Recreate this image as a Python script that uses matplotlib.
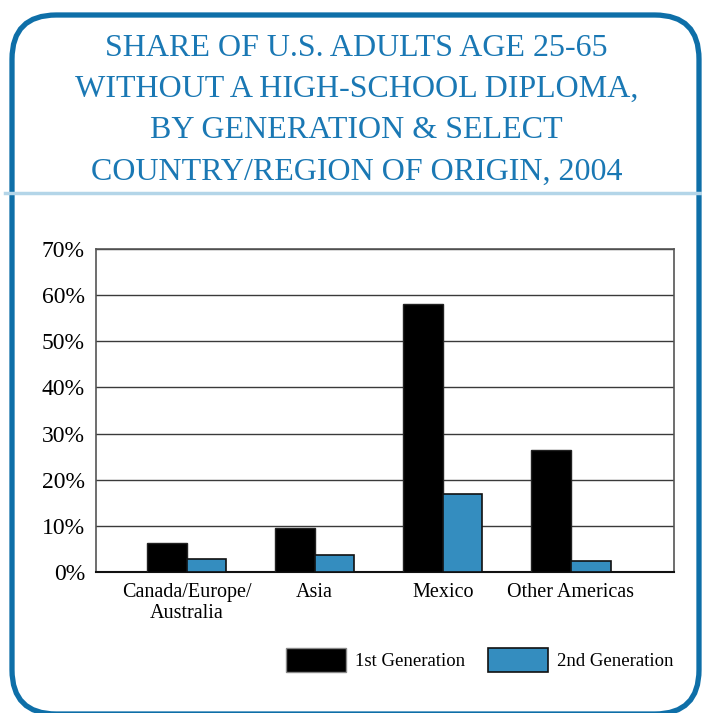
import matplotlib.pyplot as plt
import numpy as np
from matplotlib.patches import FancyBboxPatch, Patch
from matplotlib.lines import Line2D

regions = ['Canada/Europe/\nAustralia', 'Asia', 'Mexico', 'Other Americas']
gen1 = [6.2, 9.5, 58.0, 26.5]
gen2 = [2.9, 3.6, 16.8, 2.3]
series_names = ['1st Generation', '2nd Generation']
yticks = [0, 10, 20, 30, 40, 50, 60, 70]

title = 'SHARE OF U.S. ADULTS AGE 25-65\nWITHOUT A HIGH-SCHOOL DIPLOMA,\nBY GENERATION & SELECT\nCOUNTRY/REGION OF ORIGIN, 2004'

blue_dark = '#0e6fa8'
blue_title = '#1a78b4'
blue_bar = '#348dbf'

plt.rcParams['font.family'] = ['Liberation Serif', 'DejaVu Serif']

fig = plt.figure(figsize=(7.02, 7.13), dpi=100)

# rounded frame
W, H = 702, 713
frame = FancyBboxPatch((12/W, -1/H), 687/W, 699/H,
                       boxstyle='round,pad=0,rounding_size=0.063',
                       transform=fig.transFigure, fill=False,
                       edgecolor=blue_dark, linewidth=3.8, mutation_aspect=W/H)
fig.patches.append(frame)
fig.lines.append(Line2D([5/W, 1], [1 - 193/H, 1 - 193/H], transform=fig.transFigure,
                        color='#b3d5e8', linewidth=2.5))

fig.text(0.508, 1 - 110/H, title, ha='center', va='center', fontsize=23,
         color=blue_title, linespacing=1.56)

ax = fig.add_axes([96/W, 1 - 572/H, 578/W, 323/H])
x = np.arange(len(regions))
w = 0.31
ax.bar(x - w/2, gen1, w, color='black', edgecolor='#222222', linewidth=1, zorder=3,
       label=series_names[0])
ax.bar(x + w/2, gen2, w, color=blue_bar, edgecolor='#111111', linewidth=1.2, zorder=3,
       label=series_names[1])

ax.set_ylim(0, 70)
ax.set_xlim(-0.707, 3.805)
ax.set_yticks(yticks)
ax.set_yticklabels([f'{t}%' for t in yticks], fontsize=17)
ax.set_xticks(x)
ax.set_xticklabels(regions, fontsize=14.5, linespacing=1.1)
ax.tick_params(axis='y', length=0, pad=8)
ax.tick_params(axis='x', length=0, pad=8)
ax.yaxis.grid(True, color='#3a3a3a', linewidth=1)
ax.set_axisbelow(True)
for s in ['left', 'right', 'top']:
    ax.spines[s].set_color('#555555')
    ax.spines[s].set_linewidth(1.2)
ax.spines['bottom'].set_color('#111111')
ax.spines['bottom'].set_linewidth(1.5)

handles = [Patch(facecolor='black', edgecolor='#888888', linewidth=1),
           Patch(facecolor=blue_bar, edgecolor='#111111', linewidth=1.2)]
fig.legend(handles, series_names, loc='center', bbox_to_anchor=(480/W, 1 - 660/H),
           ncol=2, frameon=False, fontsize=13.5, handlelength=3.2, handleheight=1.6,
           columnspacing=1.2, handletextpad=0.5)

fig.savefig('out.png', dpi=100)
